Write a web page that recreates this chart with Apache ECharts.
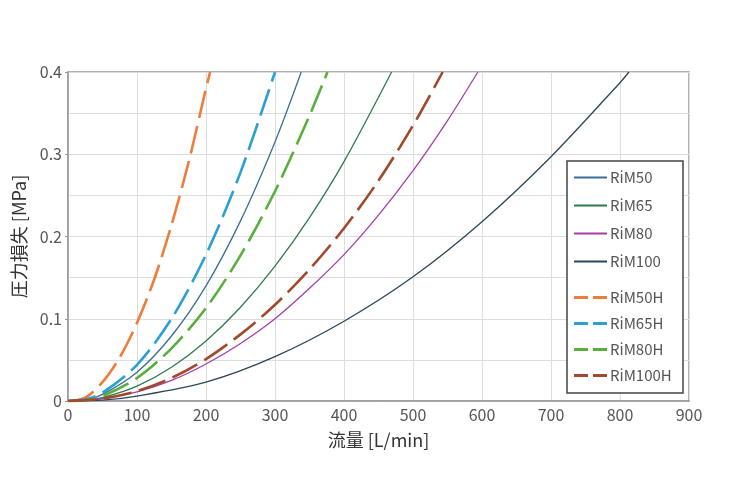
<!DOCTYPE html>
<html>
<head>
<meta charset="utf-8">
<script src="https://cdn.jsdelivr.net/npm/echarts@6/dist/echarts.min.js"></script>
<style>
  html, body { margin: 0; padding: 0; background: #fff; }
  #chart { width: 729px; height: 500px; }
</style>
</head>
<body>
<div id="chart"></div>
<script>
/* data: flow [L/min] and pressure loss [MPa] */
var names = ['RiM50', 'RiM65', 'RiM80', 'RiM100', 'RiM50H', 'RiM65H', 'RiM80H', 'RiM100H'];

var qRiM50 = [0, 25, 50, 100, 150, 200, 250, 300, 338];
var pRiM50 = [0, 0.001, 0.008, 0.035, 0.079, 0.14, 0.219, 0.315, 0.4];

var qRiM65 = [0, 25, 50, 100, 150, 200, 250, 300, 350, 400, 469];
var pRiM65 = [0, 0.001, 0.004, 0.018, 0.041, 0.073, 0.114, 0.164, 0.223, 0.291, 0.4];

var qRiM80 = [0, 25, 50, 100, 150, 200, 250, 300, 350, 400, 450, 500, 550, 594];
var pRiM80 = [0, 0.0005, 0.003, 0.011, 0.025, 0.045, 0.07, 0.1, 0.137, 0.178, 0.226, 0.28, 0.341, 0.4];

var qRiM100 = [0, 50, 100, 200, 300, 400, 500, 600, 700, 800, 813];
var pRiM100 = [0, 0.001, 0.006, 0.023, 0.054, 0.097, 0.151, 0.218, 0.297, 0.387, 0.4];

var qRiM50H = [0, 25, 50, 75, 100, 125, 150, 175, 200, 206];
var pRiM50H = [0, 0.004, 0.023, 0.053, 0.095, 0.148, 0.214, 0.291, 0.38, 0.4];

var qRiM65H = [0, 25, 50, 100, 150, 200, 250, 300];
var pRiM65H = [0, 0.002, 0.01, 0.044, 0.1, 0.178, 0.278, 0.4];

var qRiM80H = [0, 25, 50, 100, 150, 200, 250, 300, 350, 376];
var pRiM80H = [0, 0.001, 0.006, 0.028, 0.064, 0.113, 0.177, 0.255, 0.347, 0.4];

var qRiM100H = [0, 50, 100, 150, 200, 250, 300, 350, 400, 450, 500, 543];
var pRiM100H = [0, 0.003, 0.012, 0.028, 0.051, 0.081, 0.117, 0.16, 0.21, 0.268, 0.335, 0.4];

var xTicks = [0, 100, 200, 300, 400, 500, 600, 700, 800, 900];
var yTicks = [0, 0.1, 0.2, 0.3, 0.4];

var colors = ['#3a6d97', '#2f7a4d', '#a43fa6', '#2a4759', '#ec7d3d', '#2c9fd4', '#5aae3e', '#a2482b'];

function zip(q, p) {
  return q.map(function (x, i) { return [x, p[i]]; });
}

var flows = [qRiM50, qRiM65, qRiM80, qRiM100, qRiM50H, qRiM65H, qRiM80H, qRiM100H];
var press = [pRiM50, pRiM65, pRiM80, pRiM100, pRiM50H, pRiM65H, pRiM80H, pRiM100H];

var font = '"Noto Sans CJK JP", "Noto Sans", sans-serif';

var series = names.map(function (n, i) {
  var dashed = i >= 4;
  return {
    name: n,
    type: 'line',
    data: zip(flows[i], press[i]),
    smooth: 0.3,
    symbol: 'none',
    lineStyle: {
      color: colors[i],
      width: dashed ? 2.6 : 1.3,
      type: dashed ? [28, 8] : 'solid'
    },
    itemStyle: { color: colors[i] }
  };
});

// legend icons: a plain line for the solid series, two dashes for the H series
var solidIcon = 'path://M0,0h33v1h-33z';
var dashIcon = 'path://M0,0h14v1h-14z M19,0h14v1h-14z';

var legendBase = {
  orient: 'vertical',
  left: 574,
  padding: 0,
  itemWidth: 33,
  symbolKeepAspect: false,
  selectedMode: false,
  textStyle: { color: '#555', fontSize: 15, fontFamily: font, padding: [0, 0, 0, -2] }
};

var chart = echarts.init(document.getElementById('chart'));
chart.setOption({
  animation: false,
  backgroundColor: '#fff',
  color: colors,
  grid: {
    left: 68, top: 72, width: 621, height: 329,
    show: true, borderColor: '#999', borderWidth: 1.5, backgroundColor: 'transparent'
  },
  xAxis: {
    type: 'value',
    min: xTicks[0], max: xTicks[xTicks.length - 1], interval: 100,
    name: '流量 [L/min]',
    nameLocation: 'middle',
    nameGap: 30,
    nameTextStyle: { color: '#333', fontSize: 18, fontFamily: font },
    axisLine: { show: true, lineStyle: { color: '#999', width: 1.5 } },
    axisTick: { show: false },
    axisLabel: { color: '#555', fontSize: 16, fontFamily: font, margin: 6 },
    splitLine: { show: true, lineStyle: { color: '#ddd', width: 1 } }
  },
  yAxis: {
    type: 'value',
    min: yTicks[0], max: yTicks[yTicks.length - 1], interval: 0.1,
    name: '圧力損失 [MPa]',
    nameLocation: 'middle',
    nameGap: 40,
    nameTextStyle: { color: '#333', fontSize: 18, fontFamily: font },
    axisLine: { show: true, lineStyle: { color: '#999', width: 1.5 } },
    axisTick: { show: true, length: 3, lineStyle: { color: '#999' } },
    axisLabel: {
      color: '#555', fontSize: 16, fontFamily: font, margin: 6,
      formatter: function (v) { return v === 0 ? '0' : v.toFixed(1); }
    },
    splitLine: { show: true, lineStyle: { color: '#ddd', width: 1 } },
    minorTick: { show: false, splitNumber: 2 },
    minorSplitLine: { show: true, lineStyle: { color: '#ddd', width: 1 } }
  },
  legend: [
    Object.assign({}, legendBase, {
      top: 170, itemHeight: 2, itemGap: 13,
      data: names.slice(0, 4).map(function (n) { return { name: n, icon: solidIcon }; })
    }),
    Object.assign({}, legendBase, {
      top: 290, itemHeight: 3, itemGap: 11,
      data: names.slice(4).map(function (n) { return { name: n, icon: dashIcon }; })
    })
  ],
  graphic: [{
    type: 'rect',
    z: 3,
    shape: { x: 567, y: 161, width: 116, height: 232 },
    style: { fill: '#fff', stroke: '#444', lineWidth: 1.5 }
  }],
  series: series
});
</script>
</body>
</html>
